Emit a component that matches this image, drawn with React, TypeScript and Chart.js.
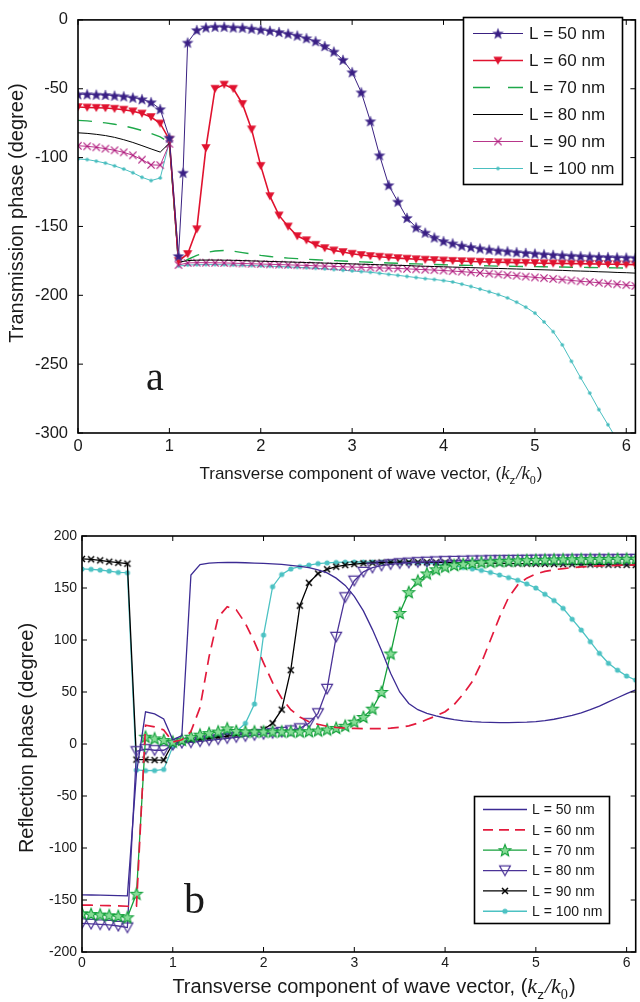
import React, { useEffect, useRef } from 'react';
import { Chart, registerables } from 'chart.js';
Chart.register(...registerables);

// ---------- shared ----------
const LABELS = ['L = 50 nm', 'L = 60 nm', 'L = 70 nm', 'L = 80 nm', 'L = 90 nm', 'L = 100 nm'];
const X_TICKS = [0, 1, 2, 3, 4, 5, 6];

// ---------- chart a : transmission phase ----------
const X_A = [0, 0.1, 0.2, 0.3, 0.4, 0.5, 0.6, 0.7, 0.8, 0.9, 1.0, 1.1, 1.15,
  1.2, 1.3, 1.4, 1.5, 1.6, 1.7, 1.8, 1.9, 2.0,
  2.1, 2.2, 2.3, 2.4, 2.5, 2.6, 2.7, 2.8, 2.9, 3.0,
  3.1, 3.2, 3.3, 3.4, 3.5, 3.6, 3.7, 3.8, 3.9, 4.0,
  4.1, 4.2, 4.3, 4.4, 4.5, 4.6, 4.7, 4.8, 4.9, 5.0,
  5.1, 5.2, 5.3, 5.4, 5.5, 5.6, 5.7, 5.8, 5.9, 6.0, 6.1];
const Y_TICKS_A = [0, -50, -100, -150, -200, -250, -300];

const A50 = [-54, -54, -54.3, -54.5, -55, -55.5, -56.4, -57.6, -59.8, -64.8, -85.5, -171.5, -111,
  -16.5, -7.4, -5.5, -5, -5, -5.5, -5.7, -6.4, -7.1,
  -7.9, -8.8, -10, -11.4, -13.3, -15.5, -19, -23, -29, -38,
  -52.6, -73.6, -98.3, -120, -132, -143.8, -150.7, -154.5, -158, -160.7,
  -162.3, -164, -165, -166, -166.8, -167.5, -168.1, -168.7, -169.2, -169.7,
  -170.2, -170.6, -171, -171.3, -171.6, -171.9, -172.1, -172.3, -172.5, -172.6, -172.8];
const A60 = [-63.3, -63.6, -63.8, -64, -64.5, -65.2, -66.4, -68, -70.5, -75.2, -87, -175, null,
  -170, -152, -93, -50, -47, -50, -61, -79.5, -106,
  -128, -142, -150, -157, -160, -163.3, -165.7, -167.4, -168.6, -169.8,
  -170.7, -171.5, -172, -172.5, -173, -173.4, -173.8, -174.1, -174.4, -174.7,
  -175, -175.2, -175.4, -175.6, -175.8, -176, -176.1, -176.3, -176.4, -176.5,
  -176.7, -176.8, -176.9, -177, -177.1, -177.2, -177.3, -177.4, -177.5, -177.6, -177.7];
const A70 = [-73, -73.3, -74, -74.8, -75.8, -77, -78.5, -80.3, -82.5, -85, -89, -177, null,
  -174, -171, -169, -167.8, -167.4, -168, -169, -170, -171,
  -171.8, -172.5, -173, -173.4, -173.8, -174.2, -174.5, -174.8, -175.1, -175.4,
  -175.7, -176, -176.2, -176.5, -176.7, -177, -177.2, -177.4, -177.6, -177.8,
  -178, -178.2, -178.3, -178.5, -178.6, -178.8, -178.9, -179, -179.1, -179.2,
  -179.3, -179.4, -179.5, -179.6, -179.7, -179.8, -179.9, -180, -180.1, -180.2, -180.3];
const A80 = [-82, -82.4, -83.1, -84, -85.3, -87, -89, -91.3, -93.7, -96, -89.5, -176, null,
  -174.8, -174.5, -174.4, -174.4, -174.5, -174.6, -174.8, -175, -175.2,
  -175.4, -175.6, -175.8, -176, -176.2, -176.4, -176.6, -176.8, -177, -177.2,
  -177.4, -177.6, -177.8, -178, -178.2, -178.4, -178.7, -178.9, -179.1, -179.3,
  -179.5, -179.7, -179.9, -180.1, -180.3, -180.5, -180.7, -180.9, -181.1, -181.3,
  -181.5, -181.7, -181.9, -182.2, -182.4, -182.6, -182.9, -183.1, -183.4, -183.6, -183.9];
const A90 = [-91.4, -91.8, -92.5, -93.5, -94.7, -96.2, -98.3, -101.5, -105.3, -105.5, -90, -178, null,
  -176.5, -176.3, -176.3, -176.4, -176.5, -176.7, -176.9, -177.1, -177.3,
  -177.5, -177.7, -177.9, -178.1, -178.3, -178.6, -178.8, -179, -179.3, -179.5,
  -179.7, -179.9, -180.1, -180.3, -180.5, -180.8, -181.1, -181.4, -181.7, -182,
  -182.4, -182.8, -183.3, -183.8, -184.3, -184.8, -185.3, -185.8, -186.4, -187,
  -187.5, -188.1, -188.6, -189.2, -189.8, -190.3, -190.9, -191.5, -192, -192.6, -193.2];
const A100 = [-101, -101.4, -102.6, -104, -106, -108.3, -111, -114.3, -116.7, -114.8, -88.5, -178.8, null,
  -178, -177.8, -177.7, -177.7, -177.8, -178, -178.2, -178.4, -178.6,
  -178.9, -179.1, -179.4, -179.7, -180, -180.4, -180.8, -181.3, -181.8, -182.3,
  -182.8, -183.3, -184, -184.8, -185.5, -186.3, -187.1, -187.9, -188.5, -189.3,
  -190.3, -191.9, -193.6, -195.5, -197.4, -199.5, -201.9, -205, -208.6, -212.9,
  -219.3, -226.4, -236, -247.9, -259.8, -271, -283, -294, -305, -316, -327];

// ---------- chart b : reflection phase ----------
const X_B = [0, 0.1, 0.2, 0.3, 0.4, 0.5, 0.6, 0.7, 0.8, 0.9,
  1.0, 1.1, 1.2, 1.3, 1.4, 1.5, 1.6, 1.7, 1.8, 1.9,
  2.0, 2.1, 2.2, 2.3, 2.4, 2.5, 2.6, 2.7, 2.8, 2.9,
  3.0, 3.1, 3.2, 3.3, 3.4, 3.5, 3.6, 3.7, 3.8, 3.9,
  4.0, 4.1, 4.2, 4.3, 4.4, 4.5, 4.6, 4.7, 4.8, 4.9,
  5.0, 5.1, 5.2, 5.3, 5.4, 5.5, 5.6, 5.7, 5.8, 5.9, 6.0, 6.1];
const Y_TICKS_B = [200, 150, 100, 50, 0, -50, -100, -150, -200];

const B50 = [-145, -145.2, -145.4, -145.6, -145.8, -146, -28, 31, 29, 24,
  4, 8, 162.5, 172.5, 174, 174.4, 174.5, 174.5, 174.3, 174,
  173.6, 173.2, 172.7, 171.8, 170.8, 169.5, 167.5, 164.5, 159.5, 152.5,
  142, 128, 110, 90, 68, 50, 39, 33, 29.5, 27,
  25, 23.5, 22.3, 21.5, 21, 20.7, 20.5, 20.5, 20.7, 21,
  21.6, 22.5, 23.8, 25.5, 27.5, 30, 33, 36.5, 40.5, 44.5, 48.5, 52];
const B60 = [-155, -155, -155.3, -155.5, -155.7, -156, -156, 18, 16.5, 13.5,
  2, 4, 12, 35, 84, 122, 132, 129, 116, 98,
  78, 59, 44, 33, 26, 21.5, 19, 17, 16, 15.3,
  15, 14.8, 14.7, 14.8, 15.2, 16, 17.5, 20, 23.5, 27,
  31, 38, 48, 60, 78, 100, 122, 141, 153, 159.5,
  163.5, 166, 167.5, 168.7, 169.6, 170.3, 170.8, 171.2, 171.5, 171.8, 172, 172.2];
const B70 = [-162.8, -163.5, -164, -164.7, -165.4, -166.6, -144, 7, 5.4, 3.8,
  2.2, 4, 7, 9, 10.5, 12, 15, 12.5, 12, 12,
  12, 12, 12, 12, 12, 12.3, 13, 14, 15.5, 17.5,
  21.5, 26, 34, 50, 87, 126, 146, 157, 164, 168,
  170.5, 172, 173, 174, 174.7, 175.3, 175.8, 176.2, 176.5, 176.8,
  177, 177.2, 177.4, 177.5, 177.6, 177.7, 177.8, 177.9, 178, 178, 178.1, 178.1];
const B80 = [-172.5, -173, -173.5, -174, -175, -176.5, -7, -5, -6, -6,
  -1, 1, 1.5, 2.5, 3.5, 4.5, 5.5, 6.5, 7.5, 8.5,
  9.5, 10.5, 11.5, 13, 15, 20, 29.5, 53, 103, 141,
  157, 165.5, 169.5, 171.5, 172.8, 173.7, 174.3, 174.8, 175.2, 175.5,
  175.8, 176, 176.2, 176.4, 176.5, 176.7, 176.8, 176.9, 177, 177.1,
  177.2, 177.3, 177.4, 177.4, 177.5, 177.6, 177.6, 177.7, 177.7, 177.8, 177.8, 177.9];
const B90 = [178, 177.6, 176.6, 175.3, 174.3, 173.4, -15, -15, -15.5, -15.5,
  0.5, 2, 3.5, 4.5, 5.5, 6.5, 7.5, 8.5, 10, 11.5,
  14, 20, 33, 71, 133, 155, 164, 168, 170.5, 172,
  173, 173.7, 174.2, 174.5, 174.7, 174.8, 174.8, 174.8, 174.7, 174.6,
  174.5, 174.4, 174.3, 174.2, 174, 173.9, 173.8, 173.6, 173.5, 173.4,
  173.3, 173.2, 173, 172.9, 172.8, 172.7, 172.6, 172.5, 172.4, 172.3, 172.2, 172.1];
const B100 = [168.3, 168, 167.3, 166.3, 165, 164.7, -25, -25.6, -25.5, -24.4,
  -2.5, 2, 3.8, 5.2, 6.5, 8.5, 10.5, 12, 19.9, 38.5,
  104.8, 151.3, 163, 168.3, 170.5, 172, 173.5, 174.2, 174.6, 174.9,
  175, 175, 175, 174.9, 174.8, 174.6, 174.4, 174.1, 173.7, 173.2,
  172.5, 171.2, 169.8, 168.4, 167, 165, 162.5, 160, 157.5, 154,
  150, 144, 138, 130.5, 120, 109.6, 98.4, 87.2, 77.6, 71, 65.4, 61.5];

const SANS = '"Liberation Sans", Arial, Helvetica, sans-serif';
const SERIF = '"Liberation Serif", "Times New Roman", serif';

// ---------- markers ----------
function mk(size: number, draw: (c: CanvasRenderingContext2D, m: number) => void) {
  const cv = document.createElement('canvas');
  cv.width = size; cv.height = size;
  const c = cv.getContext('2d')!;
  draw(c, size / 2);
  return cv;
}
function starPath(c: CanvasRenderingContext2D, cx: number, cy: number, R: number, r: number) {
  c.beginPath();
  for (let i = 0; i < 10; i++) {
    const a = -Math.PI / 2 + (i * Math.PI) / 5;
    const rad = i % 2 === 0 ? R : r;
    const px = cx + rad * Math.cos(a), py = cy + rad * Math.sin(a);
    if (i === 0) c.moveTo(px, py); else c.lineTo(px, py);
  }
  c.closePath();
}
function makeMarkers() {
  return {
    starA: mk(14, (c, m) => { starPath(c, m, m + 0.5, 5.6, 2.4); c.fillStyle = '#3a1f84'; c.fill(); c.strokeStyle = '#6b5ca8'; c.lineWidth = 0.6; c.stroke(); }),
    triA: mk(12, (c, m) => { c.beginPath(); c.moveTo(m - 4.6, m - 3.8); c.lineTo(m + 4.6, m - 3.8); c.lineTo(m, m + 4.2); c.closePath(); c.fillStyle = '#e0122f'; c.fill(); }),
    crossA: mk(12, (c, m) => { c.strokeStyle = '#b01a7e'; c.lineWidth = 1.2; c.beginPath(); c.moveTo(m - 3.6, m - 3.6); c.lineTo(m + 3.6, m + 3.6); c.moveTo(m + 3.6, m - 3.6); c.lineTo(m - 3.6, m + 3.6); c.stroke(); }),
    dotA: mk(6, (c, m) => { c.beginPath(); c.arc(m, m, 1.8, 0, Math.PI * 2); c.fillStyle = '#47bdbe'; c.fill(); }),
    starB: mk(16, (c, m) => { starPath(c, m, m + 0.5, 6.2, 2.7); c.fillStyle = '#86dc96'; c.fill(); c.strokeStyle = '#12a03a'; c.lineWidth = 1.1; c.stroke(); }),
    triB: mk(14, (c, m) => { c.beginPath(); c.moveTo(m - 5.4, m - 4.6); c.lineTo(m + 5.4, m - 4.6); c.lineTo(m, m + 5); c.closePath(); c.strokeStyle = '#4b3397'; c.lineWidth = 1.2; c.stroke(); }),
    crossB: mk(10, (c, m) => { c.strokeStyle = '#000'; c.lineWidth = 1.5; c.beginPath(); c.moveTo(m - 3, m - 3); c.lineTo(m + 3, m + 3); c.moveTo(m + 3, m - 3); c.lineTo(m - 3, m + 3); c.stroke(); }),
    dotB: mk(8, (c, m) => { c.beginPath(); c.arc(m, m, 2.6, 0, Math.PI * 2); c.fillStyle = '#4cc2c3'; c.fill(); }),
  };
}

function ds(label: string, X: number[], Y: (number | null)[], color: string, width: number, dash: number[], marker: any, legendDash: number[]) {
  return {
    label,
    data: X.map((x, i) => ({ x, y: Y[i] })),
    borderColor: color,
    backgroundColor: color,
    borderWidth: width,
    borderDash: dash,
    pointStyle: marker || 'circle',
    pointRadius: marker ? 5 : 0,
    pointHoverRadius: 0,
    tension: 0,
    spanGaps: true,
    fill: false,
    legendDash,
    marker,
  };
}

function line(c: CanvasRenderingContext2D, x1: number, y1: number, x2: number, y2: number) {
  c.beginPath(); c.moveTo(x1, y1); c.lineTo(x2, y2); c.stroke();
}

function drawFrame(chart: any, yTicks: number[]) {
  const { ctx: c, chartArea: ca, scales } = chart;
  c.save();
  c.strokeStyle = '#000';
  c.lineWidth = 1;
  const tl = 5;
  for (const v of X_TICKS) {
    const x = scales.x.getPixelForValue(v);
    line(c, x, ca.bottom, x, ca.bottom - tl);
    line(c, x, ca.top, x, ca.top + tl);
  }
  for (const v of yTicks) {
    const y = scales.y.getPixelForValue(v);
    line(c, ca.left, y, ca.left + tl, y);
    line(c, ca.right, y, ca.right - tl, y);
  }
  c.lineWidth = 1.6;
  c.strokeRect(ca.left, ca.top, ca.right - ca.left, ca.bottom - ca.top);
  c.restore();
}

function drawLegend(chart: any, box: number[], y0: number, step: number, lx0: number, lx1: number, tx: number, fontSize: number) {
  const c: CanvasRenderingContext2D = chart.ctx;
  c.save();
  c.fillStyle = '#fff';
  c.fillRect(box[0], box[1], box[2], box[3]);
  c.strokeStyle = '#000';
  c.lineWidth = 1.6;
  c.strokeRect(box[0], box[1], box[2], box[3]);
  chart.data.datasets.forEach((d: any, i: number) => {
    const y = y0 + i * step;
    c.strokeStyle = d.borderColor;
    c.lineWidth = d.borderWidth;
    c.setLineDash(d.legendDash);
    line(c, lx0, y, lx1, y);
    c.setLineDash([]);
    if (d.marker) {
      const m = d.marker as HTMLCanvasElement;
      c.drawImage(m, (lx0 + lx1) / 2 - m.width / 2, y - m.height / 2);
    }
    c.fillStyle = '#1a1a1a';
    c.font = `${fontSize}px ${SANS}`;
    c.textBaseline = 'middle';
    c.textAlign = 'left';
    c.fillText(d.label, tx, y + 1);
  });
  c.restore();
}

function drawXTitle(c: CanvasRenderingContext2D, cx: number, baseline: number, size: number) {
  const sub = size * 0.68;
  const parts = [
    { t: 'Transverse component of wave vector, (', f: `${size}px ${SANS}`, dy: 0 },
    { t: 'k', f: `italic ${size * 1.1}px ${SERIF}`, dy: 0 },
    { t: 'z', f: `${sub}px ${SANS}`, dy: size * 0.28 },
    { t: '/', f: `italic ${size * 1.1}px ${SERIF}`, dy: 0 },
    { t: 'k', f: `italic ${size * 1.1}px ${SERIF}`, dy: 0 },
    { t: '0', f: `${sub * 1.05}px ${SERIF}`, dy: size * 0.3 },
    { t: ')', f: `${size}px ${SANS}`, dy: 0 },
  ];
  c.save();
  c.fillStyle = '#1a1a1a';
  c.textBaseline = 'alphabetic';
  c.textAlign = 'left';
  let total = 0;
  const widths = parts.map((p) => { c.font = p.f; const w = c.measureText(p.t).width + (p.t === 'z' || p.t === '0' ? 1 : 0); total += w; return w; });
  let x = cx - total / 2;
  parts.forEach((p, i) => { c.font = p.f; c.fillText(p.t, x, baseline + p.dy); x += widths[i]; });
  c.restore();
}

function drawYTitle(c: CanvasRenderingContext2D, text: string, cx: number, cy: number, size: number) {
  c.save();
  c.translate(cx, cy);
  c.rotate(-Math.PI / 2);
  c.fillStyle = '#1a1a1a';
  c.font = `${size}px ${SANS}`;
  c.textAlign = 'center';
  c.textBaseline = 'middle';
  c.fillText(text, 0, 0);
  c.restore();
}

function drawTag(c: CanvasRenderingContext2D, t: string, x: number, y: number, size: number) {
  c.save();
  c.fillStyle = '#1a1a1a';
  c.font = `${size}px ${SERIF}`;
  c.textAlign = 'left';
  c.textBaseline = 'alphabetic';
  c.fillText(t, x, y);
  c.restore();
}

function scalesCfg(yMin: number, yMax: number, yTicks: number[], yWidth: number, xHeight: number, tickSize: number, yPad: number, xPad: number) {
  return {
    x: {
      type: 'linear', min: 0, max: 6.1,
      afterBuildTicks: (ax: any) => { ax.ticks = X_TICKS.map((v) => ({ value: v })); },
      afterFit: (s: any) => { s.height = xHeight; },
      grid: { display: false, drawTicks: false },
      border: { display: false },
      ticks: { font: { family: SANS, size: tickSize }, color: '#1a1a1a', padding: xPad, maxRotation: 0, autoSkip: false },
    },
    y: {
      type: 'linear', min: yMin, max: yMax,
      afterBuildTicks: (ax: any) => { ax.ticks = yTicks.map((v) => ({ value: v })); },
      afterFit: (s: any) => { s.width = yWidth; },
      grid: { display: false, drawTicks: false },
      border: { display: false },
      ticks: { font: { family: SANS, size: tickSize }, color: '#1a1a1a', padding: yPad, autoSkip: false },
    },
  };
}

export default function App() {
  const refA = useRef<HTMLCanvasElement>(null);
  const refB = useRef<HTMLCanvasElement>(null);

  useEffect(() => {
    const M = makeMarkers();
    const dsA = [
      ds(LABELS[0], X_A, A50, '#3a2181', 1, [], M.starA, []),
      ds(LABELS[1], X_A, A60, '#e0132f', 1.6, [], M.triA, []),
      ds(LABELS[2], X_A, A70, '#1ea84a', 1.4, [14, 11], null, [17, 18]),
      ds(LABELS[3], X_A, A80, '#000000', 1, [], null, []),
      ds(LABELS[4], X_A, A90, '#b8368a', 1, [], M.crossA, []),
      ds(LABELS[5], X_A, A100, '#4abfc0', 1, [], M.dotA, []),
    ];
    const dsB = [
      ds(LABELS[0], X_B, B50, '#3c2b93', 1.3, [], null, []),
      ds(LABELS[1], X_B, B60, '#e31a3c', 1.7, [11, 7], null, [10, 6]),
      ds(LABELS[2], X_B, B70, '#16a13c', 1.3, [], M.starB, []),
      ds(LABELS[3], X_B, B80, '#4b3397', 1.3, [], M.triB, []),
      ds(LABELS[4], X_B, B90, '#000000', 1.3, [], M.crossB, []),
      ds(LABELS[5], X_B, B100, '#4cc2c3', 1.3, [], M.dotB, []),
    ];

    const chartA = new Chart(refA.current!, {
      type: 'line',
      data: { datasets: dsA as any },
      options: {
        responsive: false, animation: false, events: [],
        layout: { padding: { left: 0, right: 1, top: 13, bottom: 32 } },
        plugins: { legend: { display: false }, tooltip: { enabled: false } },
        scales: scalesCfg(-300, 0, Y_TICKS_A, 78, 30, 16.5, 10, 4) as any,
      },
      plugins: [{
        id: 'decorA',
        afterDraw(chart: any) {
          drawFrame(chart, Y_TICKS_A);
          drawLegend(chart, [463.5, 17.5, 159, 167], 33.5, 27, 473, 523, 529, 17);
          const c = chart.ctx;
          drawXTitle(c, 371, 479, 17);
          drawYTitle(c, 'Transmission phase (degree)', 17, 213, 20);
          drawTag(c, 'a', 146, 390, 40);
        },
      }],
    });

    const chartB = new Chart(refB.current!, {
      type: 'line',
      data: { datasets: dsB as any },
      options: {
        responsive: false, animation: false, events: [],
        layout: { padding: { left: 0, right: 1, top: 41, bottom: 20 } },
        plugins: { legend: { display: false }, tooltip: { enabled: false } },
        scales: scalesCfg(-200, 200, Y_TICKS_B, 82, 30, 14, 5, 3) as any,
      },
      plugins: [{
        id: 'decorB',
        afterDraw(chart: any) {
          drawFrame(chart, Y_TICKS_B);
          drawLegend(chart, [474.5, 301.5, 135, 127], 314.5, 20.35, 483, 527, 532, 14);
          const c = chart.ctx;
          drawXTitle(c, 374, 498, 20);
          drawYTitle(c, 'Reflection phase (degree)', 27, 243, 20);
          drawTag(c, 'b', 184, 418, 42);
        },
      }],
    });

    return () => { chartA.destroy(); chartB.destroy(); };
  }, []);

  return (
    <div style={{ position: 'absolute', left: 0, top: 0, width: 640, height: 1002, overflow: 'hidden', background: '#fff' }}>
      <canvas ref={refA} width={642} height={495} style={{ position: 'absolute', left: 0, top: 0 }} />
      <canvas ref={refB} width={642} height={507} style={{ position: 'absolute', left: 0, top: 495 }} />
    </div>
  );
}
